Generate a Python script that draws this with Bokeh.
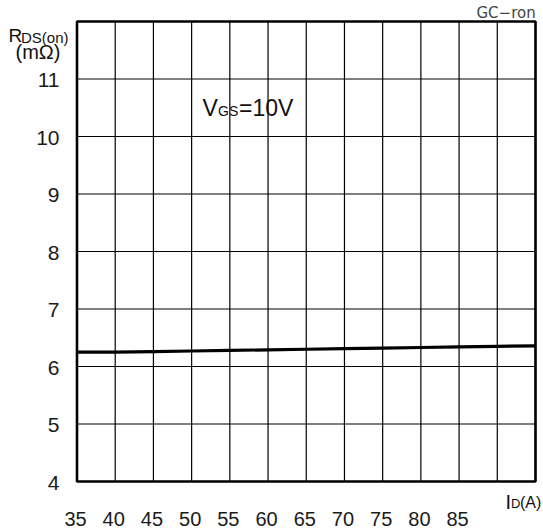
from bokeh.plotting import figure
from bokeh.models import Label, Range1d, ColumnDataSource
from bokeh.core.properties import value
from bokeh.embed import file_html
from bokeh.resources import INLINE

# ---- data ----
current_a = [35, 40, 45, 50, 55, 60, 65, 70, 75, 80, 85, 90, 95]
rds_on_mohm = [6.25, 6.25, 6.26, 6.27, 6.28, 6.29, 6.30, 6.31, 6.32, 6.33, 6.34, 6.35, 6.36]

x_ticks = [35, 40, 45, 50, 55, 60, 65, 70, 75, 80, 85, 90, 95]
x_tick_labels = ["35", "40", "45", "50", "55", "60", "65", "70", "75", "80", "85", "", ""]
y_ticks = [4, 5, 6, 7, 8, 9, 10, 11, 12]
y_tick_labels = ["4", "5", "6", "7", "8", "9", "10", "11", ""]

# ---- layout (pixels) ----
W, H = 543, 530
FRAME_L, FRAME_R, FRAME_T, FRAME_B = 76.5, 535.0, 21.0, 481.0
x0, x1 = x_ticks[0], x_ticks[-1]
y0, y1 = y_ticks[0], y_ticks[-1]
sx = (FRAME_R - FRAME_L) / (x1 - x0)
sy = (FRAME_B - FRAME_T) / (y1 - y0)
x_start = x0 - FRAME_L / sx
x_end = x1 + (W - FRAME_R) / sx
y_start = y0 - (H - FRAME_B) / sy
y_end = y1 + FRAME_T / sy

def X(px):
    return x_start + px / sx

def Y(py):
    return y_end - py / sy

p = figure(width=W, height=H, output_backend="svg", toolbar_location=None,
           x_range=Range1d(x_start, x_end), y_range=Range1d(y_start, y_end),
           x_axis_location=None, y_axis_location=None,
           min_border=0, min_border_left=0, min_border_right=0,
           min_border_top=0, min_border_bottom=0)
p.outline_line_color = None
p.background_fill_color = "white"
p.border_fill_color = "white"
p.grid.visible = False

# grid lines at the tick positions
n_x, n_y = len(x_ticks), len(y_ticks)
p.segment(x0=x_ticks, y0=[y0] * n_x, x1=x_ticks, y1=[y1] * n_x,
          line_color="black", line_width=1.2)
p.segment(x0=[x0] * n_y, y0=y_ticks, x1=[x1] * n_y, y1=y_ticks,
          line_color="black", line_width=1.2)

# curve
p.line(current_a, rds_on_mohm, line_color="black", line_width=3.2)

# frame
p.quad(left=[x0], right=[x1], bottom=[y0], top=[y1], fill_color=None,
       line_color="black", line_width=2.6)

TICK_FONT = "Liberation Sans"
# y tick labels (text centred 1 px below the grid line, right edge at x = 59 px)
ysrc = ColumnDataSource(dict(x=[x0] * n_y, y=y_ticks, t=y_tick_labels))
p.text(x="x", y="y", text="t", source=ysrc, x_offset=-17.5, y_offset=1,
       text_align="right", text_baseline="middle", text_font=value(TICK_FONT),
       text_font_size="21px", text_color="#1a1a1a")
# x tick labels (text centred at y = 518 px)
xsrc = ColumnDataSource(dict(x=x_ticks, y=[y0] * n_x, t=x_tick_labels))
p.text(x="x", y="y", text="t", source=xsrc, x_offset=-1.5, y_offset=518 - FRAME_B,
       text_align="center", text_baseline="middle", text_font=value(TICK_FONT),
       text_font_size="20px", text_color="#1a1a1a")

def lab(px, py, text, size, font="Liberation Sans", color="#111111"):
    p.add_layout(Label(x=X(px), y=Y(py), text=text, text_font=font, text_font_size=size,
                       text_color=color, text_align="left", text_baseline="middle"))

# y-axis title  R_DS(on) (mΩ)   (py = vertical centre of the text)
lab(8, 35.4, "R", "19px")
lab(20.5, 36.8, "DS(on)", "15px")
lab(15, 51, "(mΩ)", "20px")
# annotation  V_GS = 10V
lab(202, 107, "V", "23px")
lab(217.5, 110.1, "GS", "14px")
lab(238.5, 107, "=10V", "23px")
# x-axis title  I_D(A)
lab(505, 501, "I", "20px")
lab(510.5, 503.4, "D", "13px")
lab(519.5, 502.4, "(A)", "16px")
# chart id
lab(476, 12.5, "GC−ron", "15px", font="DejaVu Sans", color="#444444")

open("out.html", "w").write(file_html(p, INLINE))
